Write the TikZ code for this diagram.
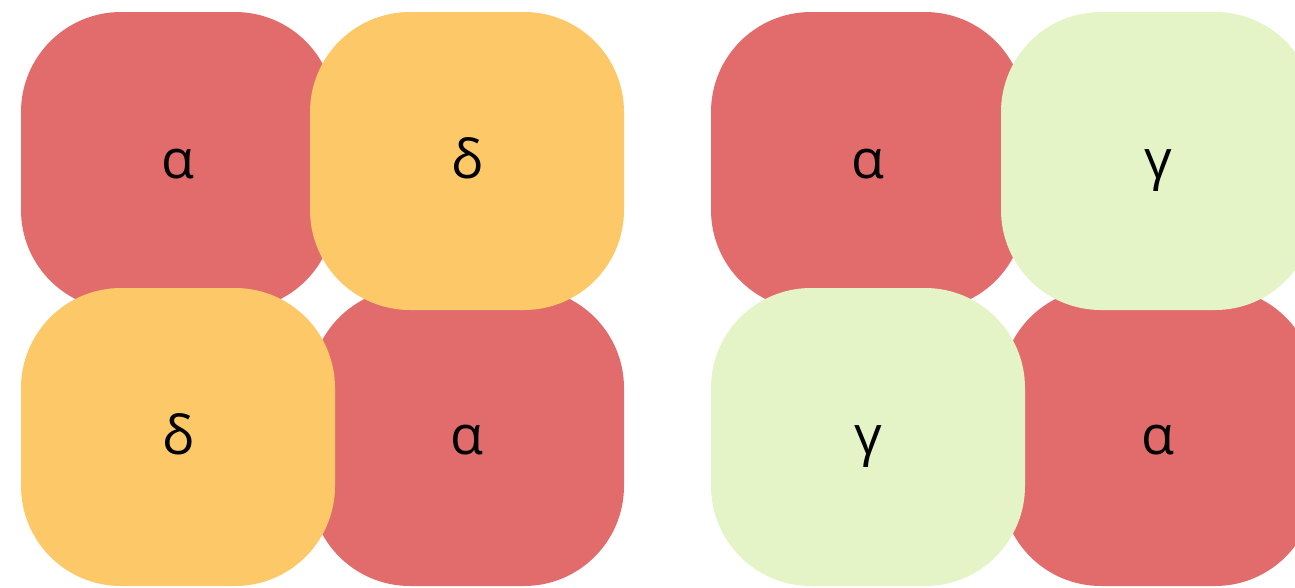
\documentclass[tikz,border=0pt]{standalone}
\usepackage{fontspec}
\setmainfont{Open Sans}
\definecolor{cred}{RGB}{226,108,108}
\definecolor{cyel}{RGB}{253,200,103}
\definecolor{cgrn}{RGB}{228,244,198}
\begin{document}
\begin{tikzpicture}[x=1pt,y=-1pt,
  tile/.style={rectangle, rounded corners=100pt, minimum width=314pt, minimum height=298pt,
    inner sep=0pt, draw=none, text=black, text height=40pt, text depth=6pt,
    font=\fontsize{54}{60}\selectfont}]
\useasboundingbox (0,0) rectangle (1295,587);
\clip (0,0) rectangle (1295,587);
% left group
\node[tile, fill=cred] (l1) at (178,161) {α};
\node[tile, fill=cred] (l4) at (467,437) {α};
\node[tile, fill=cyel] (l2) at (467,161) {δ};
\node[tile, fill=cyel] (l3) at (178,437) {δ};
% right group
\node[tile, fill=cred] (r1) at (868,161) {α};
\node[tile, fill=cred] (r4) at (1158,437) {α};
\node[tile, fill=cgrn] (r2) at (1158,161) {γ};
\node[tile, fill=cgrn] (r3) at (868,437) {γ};
\end{tikzpicture}
\end{document}
